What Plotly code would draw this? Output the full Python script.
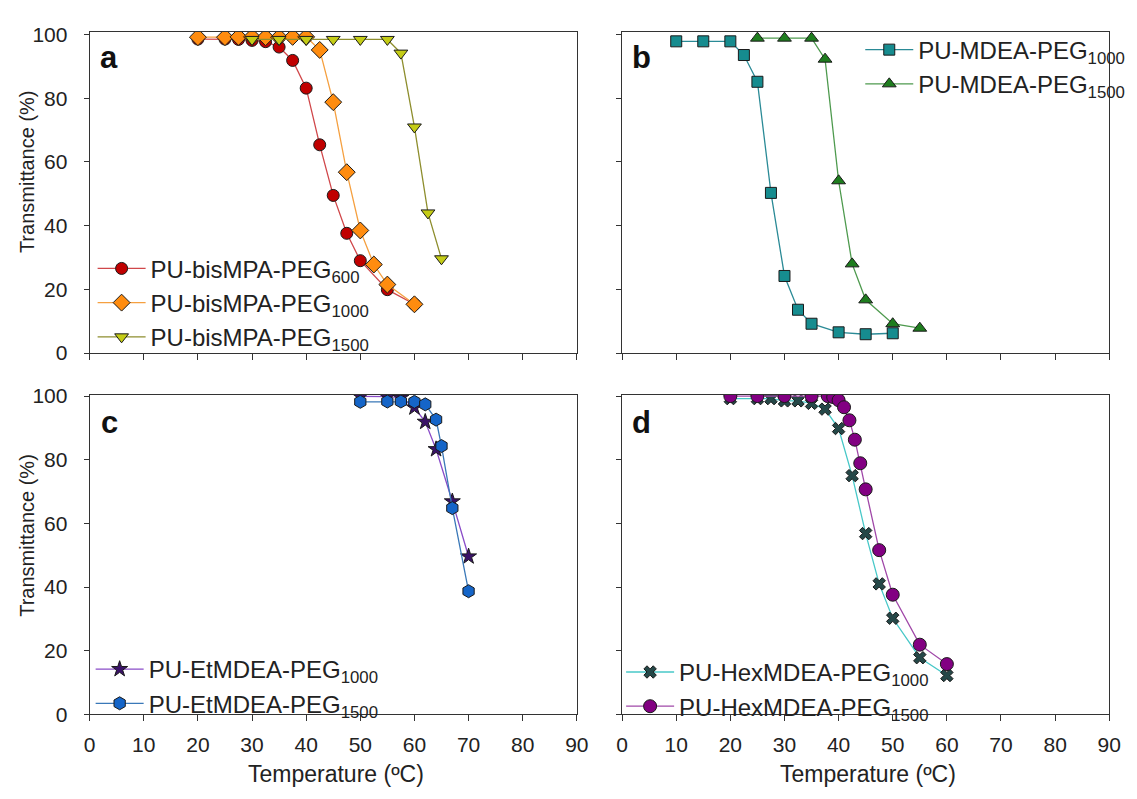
import plotly.graph_objects as go

# ---------------- data ----------------
# Panel a
a_t600 = [20, 25, 27.5, 30, 32.5, 35, 37.5, 40, 42.5, 45, 47.5, 50, 55, 60]
a_y600 = [98.6, 98.6, 98.5, 98.2, 97.8, 96.1, 91.9, 83.2, 65.4, 49.5, 37.6, 29.0, 19.9, 15.3]
a_t1000 = [20, 25, 27.5, 30, 32.5, 35, 37.5, 40, 42.5, 45, 47.5, 50, 52.5, 55, 60]
a_y1000 = [99.2, 99.2, 99.3, 99.3, 99.2, 99.2, 99.3, 99.3, 95.2, 78.8, 56.8, 38.5, 27.8, 21.5, 15.3]
a_t1500 = [30, 35, 40, 45, 50, 55, 57.5, 60, 62.5, 65]
a_y1500 = [98.5, 98.5, 98.5, 98.5, 98.5, 98.5, 94.2, 71.0, 44.0, 29.6]

# Panel b
b_t1000 = [10, 15, 20, 22.5, 25, 27.5, 30, 32.5, 35, 40, 45, 50]
b_y1000 = [97.9, 97.9, 97.9, 93.6, 85.2, 50.3, 24.2, 13.6, 9.2, 6.5, 5.9, 6.2]
b_t1500 = [25, 30, 35, 37.5, 40, 42.5, 45, 50, 55]
b_y1500 = [98.9, 98.9, 98.9, 92.3, 54.1, 28.0, 16.7, 9.2, 7.8]

# Panel c
c_t1000 = [50, 55, 57.5, 60, 62, 64, 67, 70]
c_y1000 = [99.9, 99.8, 99.5, 96.4, 91.9, 83.3, 66.9, 49.6]
c_t1500 = [50, 55, 57.5, 60, 62, 64, 65, 67, 70]
c_y1500 = [98.2, 98.3, 98.3, 98.2, 97.4, 92.6, 84.3, 64.8, 38.7]

# Panel d
d_t1000 = [20, 25, 27.5, 30, 32.5, 35, 37.5, 40, 42.5, 45, 47.5, 50, 55, 60]
d_y1000 = [99.2, 99.2, 99.2, 98.5, 98.5, 97.7, 95.9, 89.8, 75.0, 56.8, 41.0, 30.2, 17.8, 12.2]
d_t1500 = [20, 25, 30, 35, 38, 39, 40, 41, 42, 43, 44, 45, 47.5, 50, 55, 60]
d_y1500 = [100.0, 100.0, 100.0, 100.0, 100.0, 99.7, 98.7, 96.5, 92.4, 86.3, 78.9, 70.7, 51.6, 37.6, 21.9, 15.8]

x_ticks = [0, 10, 20, 30, 40, 50, 60, 70, 80, 90]
y_ticks = [0, 20, 40, 60, 80, 100]

# ---------------- figure ----------------
W, H = 1137, 799
FONT = "Liberation Sans, Arial, sans-serif"
OUT = "#1a1a1a"

fig = go.Figure()


def add(x, y, name, xa, ya, leg, symbol, fill, line, size=12, rank=1):
    fig.add_trace(go.Scatter(
        x=x, y=y, name=name, mode="lines+markers",
        xaxis=xa, yaxis=ya, legend=leg, legendrank=rank,
        line=dict(color=line, width=1.3),
        marker=dict(symbol=symbol, size=size, color=fill,
                    line=dict(color=OUT, width=1)),
    ))


add(a_t600, a_y600, "PU-bisMPA-PEG<sub>600</sub>", "x", "y", "legend",
    "circle", "#C00000", "#D0474A", 12, 1)
add(a_t1000, a_y1000, "PU-bisMPA-PEG<sub>1000</sub>", "x", "y", "legend",
    "diamond", "#FF8C0F", "#F5A040", 13, 2)
add(a_t1500, a_y1500, "PU-bisMPA-PEG<sub>1500</sub>", "x", "y", "legend",
    "triangle-down", "#C4CC16", "#8E8E2E", 12, 3)

add(b_t1500, b_y1500, "PU-MDEA-PEG<sub>1500</sub>", "x2", "y2", "legend2",
    "triangle-up", "#1E7D1E", "#4E9A4E", 12, 2)
add(b_t1000, b_y1000, "PU-MDEA-PEG<sub>1000</sub>", "x2", "y2", "legend2",
    "square", "#168C8F", "#2A8A96", 11, 1)

add(c_t1000, c_y1000, "PU-EtMDEA-PEG<sub>1000</sub>", "x3", "y3", "legend3",
    "star", "#3A1268", "#8A4CC8", 12, 1)
add(c_t1500, c_y1500, "PU-EtMDEA-PEG<sub>1500</sub>", "x3", "y3", "legend3",
    "hexagon", "#1565C8", "#3A78B8", 13, 2)

add(d_t1000, d_y1000, "PU-HexMDEA-PEG<sub>1000</sub>", "x4", "y4", "legend4",
    "x", "#254848", "#48C8C8", 11, 1)
add(d_t1500, d_y1500, "PU-HexMDEA-PEG<sub>1500</sub>", "x4", "y4", "legend4",
    "circle", "#820082", "#A048A8", 13, 2)

xl = [85 / W, 580 / W]
xr = [626 / W, 1121 / W]
yt = [1 - 351.7 / H, 1 - 21.7 / H]
yb = [1 - 723.3 / H, 1 - 395 / H]


def xax(domain, anchor, labels):
    return dict(domain=domain, anchor=anchor, range=[0, 90], tickvals=x_ticks,
                showticklabels=labels, ticks="outside", ticklen=6, tickwidth=1,
                tickcolor="#333", showline=True, linecolor="#333", linewidth=1,
                mirror=True, showgrid=False, zeroline=False,
                tickfont=dict(family=FONT, size=21, color="#222"),
                ticklabelstandoff=5)


def yax(domain, anchor, labels, top):
    return dict(domain=domain, anchor=anchor, range=[0, top], tickvals=y_ticks,
                showticklabels=labels, ticks="outside", ticklen=5, tickwidth=1,
                tickcolor="#333", showline=True, linecolor="#333", linewidth=1,
                mirror=True, showgrid=False, zeroline=False,
                tickfont=dict(family=FONT, size=21, color="#222"),
                ticklabelstandoff=12)


leg_common = dict(bgcolor="rgba(255,255,255,0)", borderwidth=0,
                  font=dict(family=FONT, size=24, color="#222"),
                  itemwidth=48, xanchor="left", yanchor="top",
                  tracegroupgap=0)

fig.update_layout(
    width=W, height=H,
    margin=dict(l=0, r=0, t=0, b=0),
    paper_bgcolor="white", plot_bgcolor="white",
    font=dict(family=FONT, color="#222"),
    xaxis=xax(xl, "y", False), yaxis=yax(yt, "x", True, 100.8),
    xaxis2=xax(xr, "y2", False), yaxis2=yax(yt, "x2", False, 100.8),
    xaxis3=xax(xl, "y3", True), yaxis3=yax(yb, "x3", True, 100.3),
    xaxis4=xax(xr, "y4", True), yaxis4=yax(yb, "x4", False, 100.3),
    legend=dict(leg_common, x=88 / W, y=1 - 242 / H),
    legend2=dict(leg_common, x=868 / W, y=1 - 17 / H),
    legend3=dict(leg_common, x=86 / W, y=1 - 654 / H),
    legend4=dict(leg_common, x=625 / W, y=1 - 657 / H),
    showlegend=True,
)

# panel letters
for letter, px, py in [("a", 105, 48), ("b", 646, 48), ("c", 105, 423), ("d", 646, 423)]:
    fig.add_annotation(text=f"<b>{letter}</b>", x=px / W, y=1 - py / H,
                       xref="paper", yref="paper", showarrow=False,
                       font=dict(family=FONT, size=31, color="#111"),
                       xanchor="center", yanchor="middle")

# axis titles
for cy in [165, 539]:
    fig.add_annotation(text="Transmittance (%)", x=22 / W, y=1 - cy / H,
                       xref="paper", yref="paper", showarrow=False, textangle=-90,
                       font=dict(family=FONT, size=20, color="#222"),
                       xanchor="center", yanchor="middle")
for cx in [335, 876]:
    fig.add_annotation(text="Temperature (ºC)", x=cx / W, y=1 - 785 / H,
                       xref="paper", yref="paper", showarrow=False,
                       font=dict(family=FONT, size=23, color="#222"),
                       xanchor="center", yanchor="middle")

fig.write_html("out.html")
